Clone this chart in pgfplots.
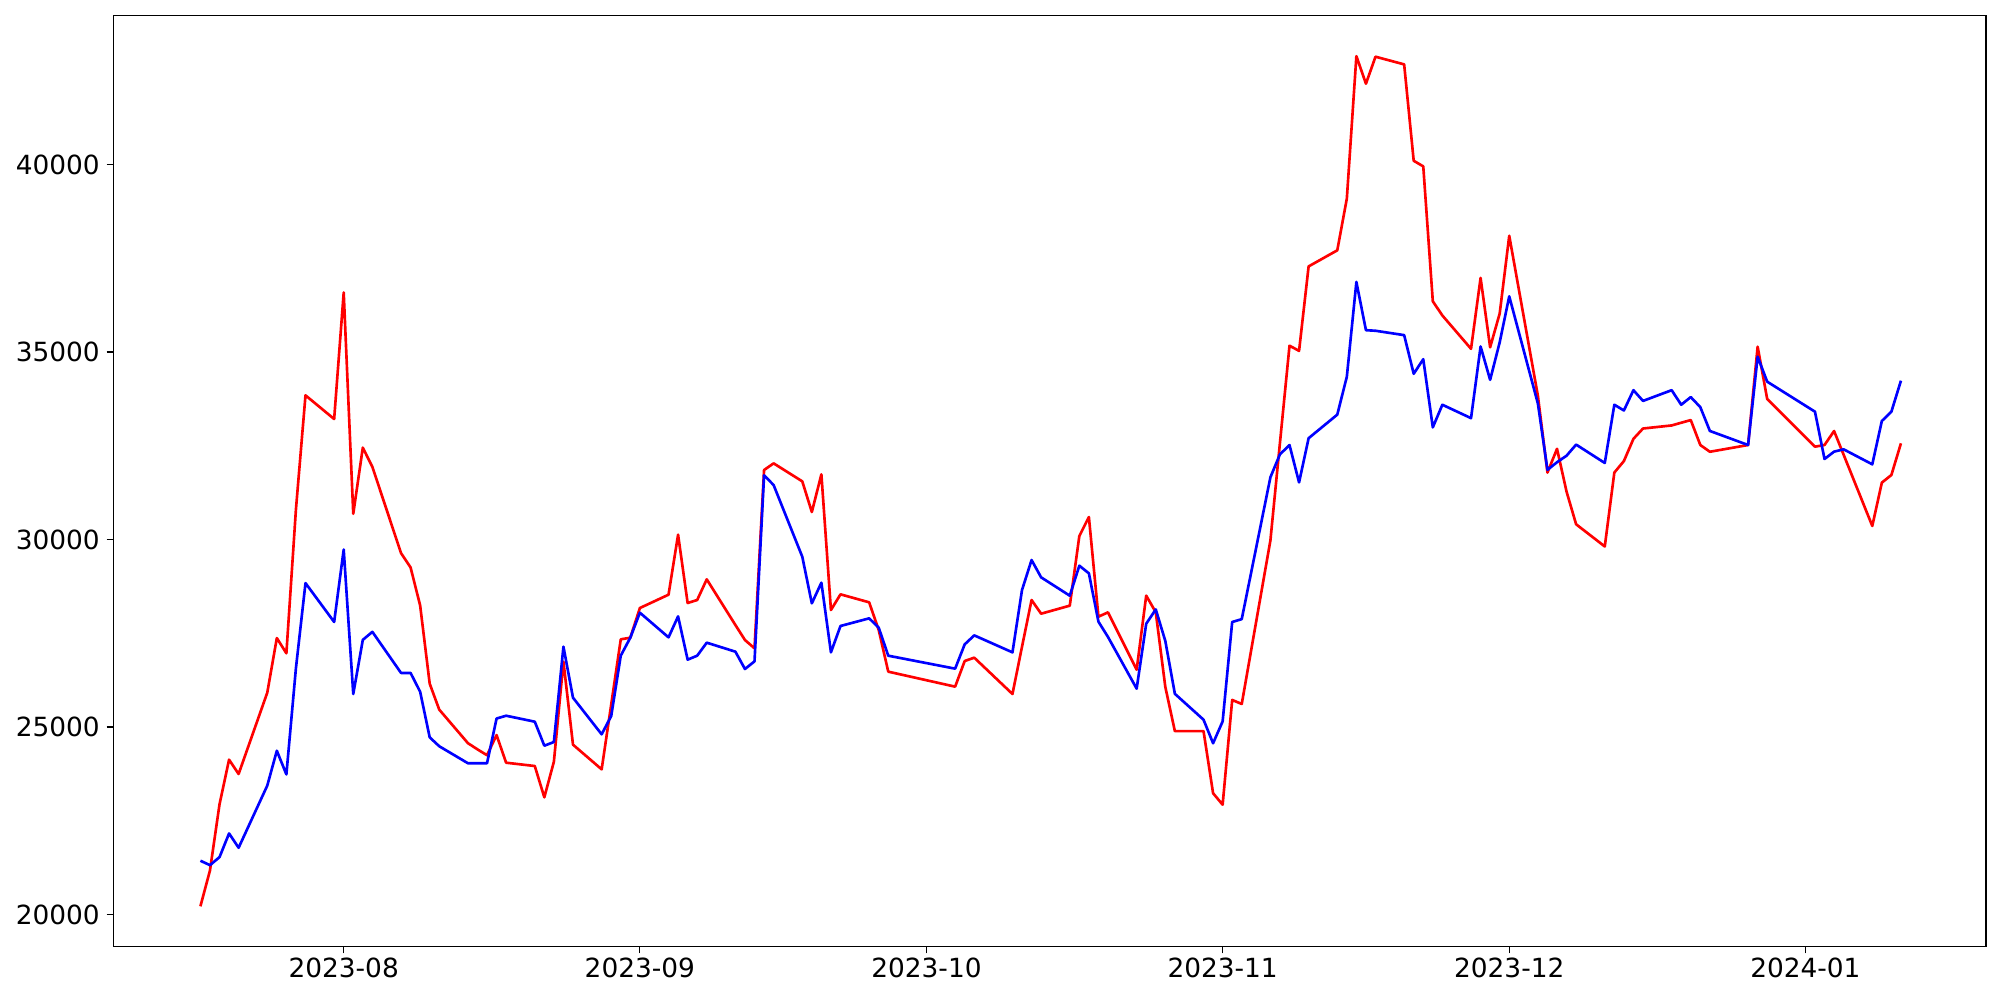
\documentclass[border=0pt]{standalone}
\usepackage{fontspec}
\setmainfont{DejaVu Sans}
\usepackage{pgfplots}
\usepackage{pgfplotstable}
\pgfplotsset{compat=1.18}
\usepgfplotslibrary{dateplot}

\pgfplotstableread{
date red blue
2023-07-17 20219 21435
2023-07-18 21173 21316
2023-07-19 22937 21530
2023-07-20 24129 22162
2023-07-21 23748 21781
2023-07-24 25917 23438
2023-07-25 27372 24367
2023-07-26 26966 23736
2023-07-27 30805 26573
2023-07-28 33845 28838
2023-07-31 33213 27801
2023-08-01 36587 29732
2023-08-02 30686 25881
2023-08-03 32450 27324
2023-08-04 31937 27538
2023-08-07 29637 26442
2023-08-08 29255 26442
2023-08-09 28242 25941
2023-08-10 26156 24725
2023-08-11 25464 24487
2023-08-14 24570 24034
2023-08-15 24404 24034
2023-08-16 24248 24034
2023-08-17 24785 25226
2023-08-18 24048 25301
2023-08-21 23960 25142
2023-08-22 23125 24502
2023-08-23 24075 24600
2023-08-24 26742 27142
2023-08-25 24529 25782
2023-08-28 23871 24805
2023-08-29 25600 25293
2023-08-30 27338 26902
2023-08-31 27382 27382
2023-09-01 28173 28049
2023-09-04 28529 27391
2023-09-05 30129 27951
2023-09-06 28307 26796
2023-09-07 28387 26902
2023-09-08 28938 27249
2023-09-11 27720 27009
2023-09-12 27320 26547
2023-09-13 27098 26751
2023-09-14 31853 31711
2023-09-15 32031 31453
2023-09-18 31551 29542
2023-09-19 30733 28298
2023-09-20 31738 28849
2023-09-21 28120 26991
2023-09-22 28538 27694
2023-09-25 28325 27898
2023-09-26 27587 27649
2023-09-27 26476 26902
2023-10-04 26076 26556
2023-10-05 26760 27204
2023-10-06 26849 27444
2023-10-10 25880 26991
2023-10-11 27142 28653
2023-10-12 28387 29453
2023-10-13 28022 28991
2023-10-16 28236 28502
2023-10-17 30093 29302
2023-10-18 30600 29098
2023-10-19 27942 27809
2023-10-20 28058 27401
2023-10-23 26528 26023
2023-10-24 28504 27754
2023-10-25 28060 28137
2023-10-26 26069 27294
2023-10-27 24890 25885
2023-10-30 24890 25195
2023-10-31 23234 24567
2023-11-01 22928 25150
2023-11-02 25722 27800
2023-11-03 25614 27877
2023-11-06 29975 31660
2023-11-07 32580 32273
2023-11-08 35169 32518
2023-11-09 35031 31523
2023-11-10 37283 32702
2023-11-13 37712 33330
2023-11-14 39091 34341
2023-11-15 42890 36869
2023-11-16 42155 35582
2023-11-17 42875 35567
2023-11-20 42670 35450
2023-11-21 40100 34420
2023-11-22 39950 34808
2023-11-23 36352 32991
2023-11-24 35974 33594
2023-11-27 35085 33236
2023-11-28 36976 35147
2023-11-29 35126 34258
2023-11-30 36026 35259
2023-12-01 38100 36485
2023-12-04 33829 33624
2023-12-05 31785 31857
2023-12-06 32419 32061
2023-12-07 31275 32235
2023-12-08 30406 32531
2023-12-11 29814 32041
2023-12-12 31785 33594
2023-12-13 32092 33441
2023-12-14 32685 33982
2023-12-15 32960 33696
2023-12-18 33042 33982
2023-12-19 33114 33594
2023-12-20 33185 33798
2023-12-21 32520 33530
2023-12-22 32340 32895
2023-12-26 32520 32520
2023-12-27 35142 34875
2023-12-28 33747 34209
2024-01-02 32476 33409
2024-01-03 32520 32147
2024-01-04 32893 32343
2024-01-05 32262 32405
2024-01-08 30361 32005
2024-01-09 31516 33160
2024-01-10 31720 33409
2024-01-11 32565 34235
}\data

\begin{document}
\begin{tikzpicture}
\path[use as bounding box] (-81.7bp,-38.6bp) rectangle (1358.3bp,681.4bp);
\begin{axis}[
  at={(0,0)}, anchor=south west, scale only axis,
  width=1348.2bp, height=670.4bp,
  date coordinates in=x, date ZERO=2023-08-01,
  xmin=2023-07-08 02:24, xmax=2024-01-19 21:36,
  ymin=19150, ymax=43980,
  scaled y ticks=false, scaled x ticks=false,
  xtick={2023-08-01,2023-09-01,2023-10-01,2023-11-01,2023-12-01,2024-01-01},
  xticklabel=\year-\month,
  ytick={20000,25000,30000,35000,40000},
  yticklabels={20000,25000,30000,35000,40000},
  tick pos=left, tick align=outside, major tick length=5bp,
  every tick/.style={black, line width=0.8bp},
  axis line style={line width=0.8bp},
  ticklabel style={font=\fontsize{19bp}{23bp}\selectfont},
  xticklabel style={inner sep=0pt, yshift=-3.4bp},
  yticklabel style={inner sep=0pt, xshift=-4.7bp},
]
\addplot[red, line width=1.9bp, line join=round] table[x=date,y=red]{\data};
\addplot[blue, line width=1.9bp, line join=round] table[x=date,y=blue]{\data};
\end{axis}
\end{tikzpicture}
\end{document}
